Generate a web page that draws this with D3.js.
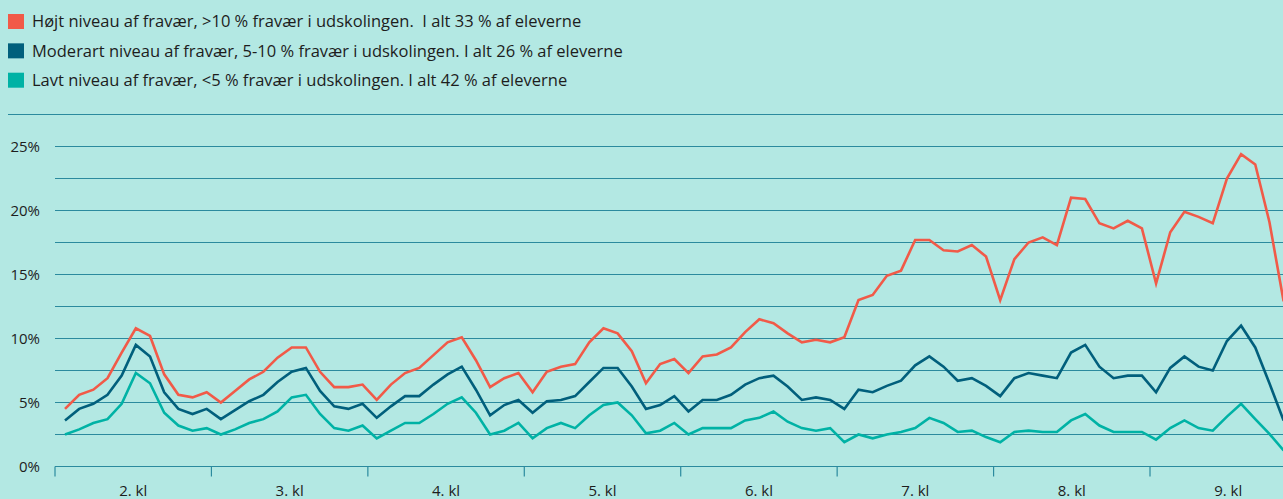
<!DOCTYPE html>
<html>
<head>
<meta charset="utf-8">
<script src="https://cdn.jsdelivr.net/npm/d3@7"></script>
<style>
  body { margin: 0; background: #b3e8e3; }
  text { font-family: "Open Sans", sans-serif; }
</style>
</head>
<body>
<div id="chart"></div>
<script>
// school grades on the x axis, 11 months per school year
const grades = ["2. kl", "3. kl", "4. kl", "5. kl", "6. kl", "7. kl", "8. kl", "9. kl"]

// share of students absent (%), one value per month
const high = [
  4.5, 5.6, 6.0, 6.9, 8.9, 10.8, 10.2, 7.2, 5.6, 5.4, 5.8,
  5.0, 5.9, 6.8, 7.4, 8.5, 9.3, 9.3, 7.4, 6.2, 6.2, 6.4,
  5.2, 6.4, 7.3, 7.7, 8.7, 9.7, 10.1, 8.3, 6.2, 6.9, 7.3,
  5.8, 7.4, 7.8, 8.0, 9.7, 10.8, 10.4, 9.0, 6.5, 8.0, 8.4,
  7.3, 8.6, 8.75, 9.3, 10.5, 11.5, 11.2, 10.4, 9.7, 9.9, 9.7,
  10.1, 13.0, 13.4, 14.9, 15.3, 17.7, 17.7, 16.9, 16.8, 17.3, 16.4,
  13.0, 16.2, 17.5, 17.9, 17.3, 21.0, 20.9, 19.0, 18.6, 19.2, 18.6,
  14.3, 18.3, 19.9, 19.5, 19.0, 22.5, 24.4, 23.6, 19.1, 12.9
]
const moderate = [
  3.6, 4.5, 4.9, 5.6, 7.1, 9.5, 8.6, 5.8, 4.5, 4.1, 4.5,
  3.7, 4.4, 5.1, 5.6, 6.6, 7.4, 7.7, 5.9, 4.7, 4.5, 4.9,
  3.8, 4.7, 5.5, 5.5, 6.4, 7.2, 7.8, 6.0, 4.0, 4.8, 5.2,
  4.2, 5.1, 5.2, 5.5, 6.6, 7.7, 7.7, 6.25, 4.5, 4.8, 5.5,
  4.3, 5.2, 5.2, 5.6, 6.4, 6.9, 7.1, 6.25, 5.2, 5.4, 5.2,
  4.5, 6.0, 5.8, 6.3, 6.7, 7.9, 8.6, 7.8, 6.7, 6.9, 6.3,
  5.5, 6.9, 7.3, 7.1, 6.9, 8.9, 9.5, 7.8, 6.9, 7.1, 7.1,
  5.8, 7.7, 8.6, 7.8, 7.5, 9.8, 11.0, 9.3, 6.5, 3.6
]
const low = [
  2.5, 2.9, 3.4, 3.7, 4.9, 7.3, 6.5, 4.2, 3.2, 2.8, 3.0,
  2.5, 2.9, 3.4, 3.7, 4.3, 5.4, 5.6, 4.1, 3.0, 2.8, 3.2,
  2.2, 2.8, 3.4, 3.4, 4.1, 4.9, 5.4, 4.2, 2.5, 2.8, 3.4,
  2.2, 3.0, 3.4, 3.0, 4.0, 4.8, 5.0, 4.0, 2.6, 2.8, 3.4,
  2.5, 3.0, 3.0, 3.0, 3.6, 3.8, 4.3, 3.5, 3.0, 2.8, 3.0,
  1.9, 2.5, 2.2, 2.5, 2.7, 3.0, 3.8, 3.4, 2.7, 2.8, 2.3,
  1.9, 2.7, 2.8, 2.7, 2.7, 3.6, 4.1, 3.2, 2.7, 2.7, 2.7,
  2.1, 3.0, 3.6, 3.0, 2.8, 3.9, 4.9, 3.7, 2.55, 1.25
]

const legendLabels = [
  "Højt niveau af fravær, >10 % fravær i udskolingen.  I alt 33 % af eleverne",
  "Moderart niveau af fravær, 5-10 % fravær i udskolingen. I alt 26 % af eleverne",
  "Lavt niveau af fravær, <5 % fravær i udskolingen. I alt 42 % af eleverne"
]
const yTicks = [0, 5, 10, 15, 20, 25]
const gridValues = [2.5, 5, 7.5, 10, 12.5, 15, 17.5, 20, 22.5, 25, 27.5]

const WIDTH = 1283
const HEIGHT = 499
const COLORS = ["#f15a48", "#015f7c", "#00b2a5"]
const GRID = "#2b8a9e"
const TEXT = "#1d1d1d"

const svg = d3.select("#chart")
  .append("svg")
    .attr("width", WIDTH)
    .attr("height", HEIGHT)

const x = d3.scaleLinear()
  .domain([0, high.length - 1])
  .range([65, 1283.6])

const xBand = d3.scaleBand()
  .domain(grades)
  .range([55, 55 + grades.length * 156.43])

const y = d3.scaleLinear()
  .domain([0, 27.5])
  .range([466.5, 114.5])

// gridlines, the top one runs further left
svg.append("g")
  .selectAll("line")
  .data(gridValues)
  .enter().append("line")
    .attr("x1", d => d === 27.5 ? 8 : 55)
    .attr("x2", WIDTH)
    .attr("y1", d => y(d))
    .attr("y2", d => y(d))
    .attr("stroke", GRID)
    .attr("stroke-width", 1.2)

// y labels
const yAxisCall = d3.axisLeft(y)
  .tickValues(yTicks)
  .tickSize(0)
  .tickPadding(0)
  .tickFormat(d => d + "%")

svg.append("g")
  .attr("transform", "translate(40, 0)")
  .call(yAxisCall)
  .call(g => g.select(".domain").remove())
  .call(g => g.selectAll("text")
    .attr("font-family", "Open Sans, sans-serif")
    .attr("font-size", 15)
    .attr("fill", TEXT))

// x axis
const xAxisCall = d3.axisBottom(xBand)
  .tickSize(0)
  .tickPadding(19)

const xAxisGroup = svg.append("g")
  .attr("transform", `translate(0, ${y(0)})`)
  .call(xAxisCall)

xAxisGroup.select(".domain")
  .attr("d", `M55,0H${WIDTH}`)
  .attr("stroke", GRID)
  .attr("stroke-width", 1.2)

xAxisGroup.selectAll("text")
  .attr("font-family", "Open Sans, sans-serif")
  .attr("font-size", 15)
  .attr("fill", TEXT)

// boundary ticks between the grades
xAxisGroup.selectAll(".boundary")
  .data(grades)
  .enter().append("line")
    .attr("class", "boundary")
    .attr("x1", d => xBand(d))
    .attr("x2", d => xBand(d))
    .attr("y1", 0)
    .attr("y2", 10)
    .attr("stroke", GRID)
    .attr("stroke-width", 1.2)

// lines
const line = d3.line()
  .x((d, i) => x(i))
  .y(d => y(d))

svg.append("g")
  .selectAll("path")
  .data([low, moderate, high])
  .enter().append("path")
    .attr("d", line)
    .attr("fill", "none")
    .attr("stroke", (d, i) => COLORS[2 - i])
    .attr("stroke-width", 2.6)
    .attr("stroke-linejoin", "miter")

// legend
const legend = svg.append("g")
  .selectAll("g")
  .data(legendLabels)
  .enter().append("g")
    .attr("transform", (d, i) => `translate(8, ${21.5 + i * 29.35})`)

legend.append("rect")
  .attr("x", 0)
  .attr("y", -7.5)
  .attr("width", 16)
  .attr("height", 15)
  .attr("fill", (d, i) => COLORS[i])

legend.append("text")
  .attr("x", 24)
  .attr("y", 0)
  .attr("dy", "0.35em")
  .attr("font-size", 16.5)
  .attr("fill", TEXT)
  .style("white-space", "pre")
  .text(d => d)
</script>
</body>
</html>
